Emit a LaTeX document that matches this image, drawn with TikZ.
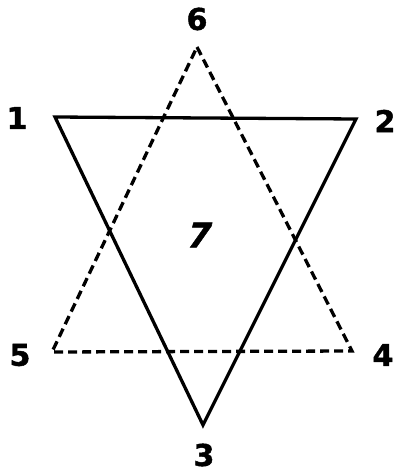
\documentclass[tikz,border=0pt]{standalone}
\usepackage{fontspec}
\newfontfamily\lblfont[FakeBold=1.5]{DejaVu Sans Bold}
\begin{document}
\begin{tikzpicture}[x=1pt,y=-1pt,
  lbl/.style={font=\fontsize{30}{32}\lblfont, inner sep=0pt},
  solidtri/.style={line width=3.3pt, line join=miter},
  dashtri/.style={line width=3.3pt, dash pattern=on 9pt off 5pt, line join=miter}]
\useasboundingbox (0,0) rectangle (395,473);
\coordinate (v1) at (55,117);
\coordinate (v2) at (356,119);
\coordinate (v3) at (203,425);
\coordinate (v6) at (197,47);
\coordinate (v5) at (52,352);
\coordinate (v4) at (352,351);
\draw[solidtri] (v1) -- (v2) -- (v3) -- cycle;
\draw[dashtri] (v6) -- (v4) -- (v5) -- cycle;
\node[lbl] (n1) at (17,118) {1};
\node[lbl] (n2) at (385,121) {2};
\node[lbl] (n3) at (204,455) {3};
\node[lbl] (n4) at (383,355) {4};
\node[lbl] (n5) at (20,355) {5};
\node[lbl] (n6) at (197,19) {6};
\node[lbl, font=\fontsize{34}{36}\lblfont, xslant=0.25] (n7) at (200,235) {7};
\end{tikzpicture}
\end{document}
